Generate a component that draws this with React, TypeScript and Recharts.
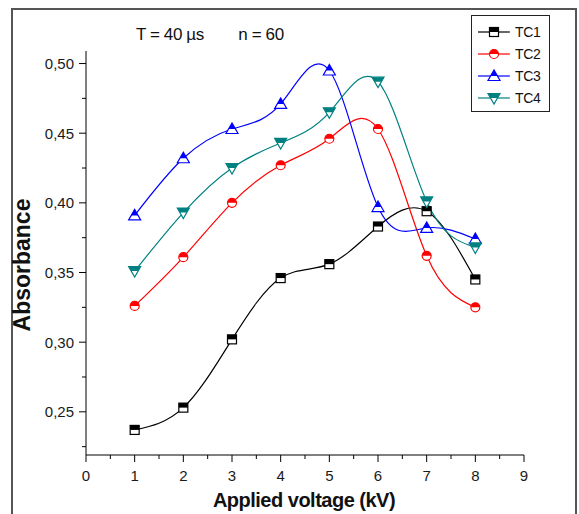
import { LineChart, Line, XAxis, YAxis } from 'recharts';

const voltage = [1, 2, 3, 4, 5, 6, 7, 8];
const tc1 = [0.237, 0.253, 0.302, 0.346, 0.356, 0.383, 0.394, 0.345];
const tc2 = [0.326, 0.361, 0.4, 0.427, 0.446, 0.453, 0.362, 0.325];
const tc3 = [0.391, 0.432, 0.453, 0.471, 0.495, 0.397, 0.382, 0.374];
const tc4 = [0.351, 0.393, 0.425, 0.443, 0.465, 0.487, 0.401, 0.368];

const xTicks = [0, 0.5, 1, 1.5, 2, 2.5, 3, 3.5, 4, 4.5, 5, 5.5, 6, 6.5, 7, 7.5, 8, 8.5, 9];
const yTicks = [0.225, 0.25, 0.275, 0.3, 0.325, 0.35, 0.375, 0.4, 0.425, 0.45, 0.475, 0.5];

const data = voltage.map((v, i) => ({ v, tc1: tc1[i], tc2: tc2[i], tc3: tc3[i], tc4: tc4[i] }));

const series = [
  { key: 'tc1', name: 'TC1', color: '#000000', shape: 'square' },
  { key: 'tc2', name: 'TC2', color: '#ff0000', shape: 'circle' },
  { key: 'tc3', name: 'TC3', color: '#0000ff', shape: 'up' },
  { key: 'tc4', name: 'TC4', color: '#008080', shape: 'down' },
];

const font = '"Liberation Sans", Arial, sans-serif';

function Marker({ cx, cy, color, shape }: { cx: number; cy: number; color: string; shape: string }) {
  if (shape === 'square') {
    const s = 4.5;
    return (
      <g>
        <rect x={cx - s} y={cy - s} width={2 * s} height={2 * s} fill="#fff" stroke={color} strokeWidth={1.2} />
        <rect x={cx - s} y={cy - s} width={2 * s} height={s} fill={color} />
      </g>
    );
  }
  if (shape === 'circle') {
    const r = 4.5;
    return (
      <g>
        <circle cx={cx} cy={cy} r={r} fill="#fff" stroke={color} strokeWidth={1.2} />
        <path d={`M${cx - r},${cy} A${r},${r} 0 0 1 ${cx + r},${cy} Z`} fill={color} />
      </g>
    );
  }
  const a = 6;
  const b = 4.5;
  const h = (a * a) / (a + b);
  if (shape === 'up') {
    return (
      <g>
        <polygon points={`${cx},${cy - a} ${cx - a},${cy + b} ${cx + a},${cy + b}`} fill="#fff" stroke={color} strokeWidth={1.2} />
        <polygon points={`${cx},${cy - a} ${cx - h},${cy} ${cx + h},${cy}`} fill={color} />
      </g>
    );
  }
  return (
    <g>
      <polygon points={`${cx - a},${cy - b} ${cx + a},${cy - b} ${cx},${cy + a}`} fill="#fff" stroke={color} strokeWidth={1.2} />
      <polygon points={`${cx - a},${cy - b} ${cx + a},${cy - b} ${cx + h},${cy} ${cx - h},${cy}`} fill={color} />
    </g>
  );
}

const isMajorY = (v: number) => Math.abs(v * 20 - Math.round(v * 20)) < 1e-6;
const isMajorX = (v: number) => Math.abs(v - Math.round(v)) < 1e-6;

function YTick(props: any) {
  const { x, y, payload } = props;
  const v = payload.value as number;
  const major = isMajorY(v);
  return (
    <g>
      <line x1={x} x2={x - (major ? 7 : 4)} y1={y} y2={y} stroke="#000" />
      {major && (
        <text x={x - 12} y={y} dy={5.5} textAnchor="end" fontSize={15} fontFamily={font} fill="#1a1a1a">
          {v.toFixed(2).replace('.', ',')}
        </text>
      )}
    </g>
  );
}

function XTick(props: any) {
  const { x, y, payload } = props;
  const v = payload.value as number;
  const major = isMajorX(v);
  return (
    <g>
      <line x1={x} x2={x} y1={y} y2={y + (major ? 7 : 4)} stroke="#000" />
      {major && (
        <text x={x} y={y + 26} textAnchor="middle" fontSize={15} fontFamily={font} fill="#1a1a1a">
          {v}
        </text>
      )}
    </g>
  );
}

export default function App() {
  return (
    <div style={{ position: 'absolute', left: 0, top: 0, width: 579, height: 514, overflow: 'hidden', background: '#fff' }}>
      <div style={{ position: 'absolute', left: 11, top: 8, width: 562, height: 520, border: '2px solid #555' }} />
      <div style={{ position: 'absolute', left: 0, top: 0 }}>
        <LineChart width={579} height={514} data={data} margin={{ top: 51, right: 55, left: 26, bottom: 29 }}>
          <XAxis
            dataKey="v"
            type="number"
            domain={[0, 9]}
            ticks={xTicks}
            interval={0}
            height={30}
            stroke="#000"
            tickSize={0}
            tickMargin={0}
            tick={<XTick />}
          />
          <YAxis
            type="number"
            domain={[0.219, 0.509]}
            allowDataOverflow
            ticks={yTicks}
            interval={0}
            width={60}
            stroke="#000"
            tickSize={0}
            tickMargin={0}
            tick={<YTick />}
          />
          {series.map((s) => (
            <Line
              key={s.key}
              type="natural"
              dataKey={s.key}
              stroke={s.color}
              strokeWidth={1.2}
              isAnimationActive={false}
              dot={(p: any) => <Marker key={`${s.key}-${p.index}`} cx={p.cx} cy={p.cy} color={s.color} shape={s.shape} />}
            />
          ))}
        </LineChart>
      </div>
      <div style={{ position: 'absolute', left: 136, top: 25, fontFamily: font, fontSize: 17, letterSpacing: -0.4, color: '#111', whiteSpace: 'pre' }}>
        {'T = 40 µs        n = 60'}
      </div>
      <div
        style={{
          position: 'absolute',
          left: 471,
          top: 15,
          width: 77,
          height: 95,
          border: '1.5px solid #222',
          background: '#fff',
          fontFamily: font,
          fontSize: 14,
          letterSpacing: -0.3,
        }}
      >
        {series.map((s, i) => (
          <div key={s.key} style={{ position: 'absolute', left: 4, top: 7 + i * 22, height: 18, display: 'flex', alignItems: 'center' }}>
            <svg width={36} height={18}>
              <line x1={2} x2={34} y1={9} y2={9} stroke={s.color} strokeWidth={1.2} />
              <Marker cx={18} cy={9} color={s.color} shape={s.shape} />
            </svg>
            <span style={{ marginLeft: 3, color: '#111' }}>{s.name}</span>
          </div>
        ))}
      </div>
      <div
        style={{
          position: 'absolute',
          left: 22,
          top: 265,
          transform: 'translate(-50%, -50%) rotate(-90deg)',
          fontFamily: font,
          fontWeight: 'bold',
          fontSize: 23,
          color: '#111',
          whiteSpace: 'nowrap',
        }}
      >
        Absorbance
      </div>
      <div
        style={{
          position: 'absolute',
          left: 304,
          top: 500,
          transform: 'translate(-50%, -50%)',
          fontFamily: font,
          fontWeight: 'bold',
          fontSize: 20,
          letterSpacing: -0.5,
          color: '#111',
          whiteSpace: 'nowrap',
        }}
      >
        Applied voltage (kV)
      </div>
    </div>
  );
}
